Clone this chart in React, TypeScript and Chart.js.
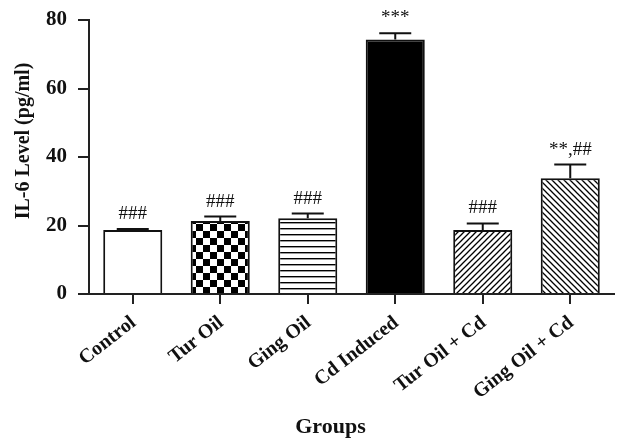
import React, { useEffect, useRef } from "react";
import { Chart, registerables } from "chart.js";

Chart.register(...registerables);

const categories = ["Control", "Tur Oil", "Ging Oil", "Cd Induced", "Tur Oil + Cd", "Ging Oil + Cd"];
const means = [18.7, 21.3, 22.1, 74.3, 18.7, 33.8];
const sems = [0.3, 1.3, 1.4, 1.8, 1.9, 4.0];
const significance = ["###", "###", "###", "***", "###", "**,##"];
const yTicks = [0, 20, 40, 60, 80];
const yTitle = "IL-6 Level (pg/ml)";
const xTitle = "Groups";

const SERIF = "'Liberation Serif', 'Times New Roman', serif";

function makeTile(size: number, draw: (c: CanvasRenderingContext2D, s: number) => void) {
  const cv = document.createElement("canvas");
  cv.width = size;
  cv.height = size;
  const c = cv.getContext("2d")!;
  c.fillStyle = "#ffffff";
  c.fillRect(0, 0, size, size);
  draw(c, size);
  return cv;
}

function buildPatterns(ctx: CanvasRenderingContext2D) {
  const checker = makeTile(14, (c) => {
    c.fillStyle = "#000";
    c.fillRect(0, 0, 7, 7);
    c.fillRect(7, 7, 7, 7);
  });
  const horiz = makeTile(6, (c, s) => {
    c.fillStyle = "#000";
    c.fillRect(0, 0, s, 1.4);
  });
  const diagUp = makeTile(6, (c, s) => {
    c.strokeStyle = "#000";
    c.lineWidth = 1.3;
    c.beginPath();
    c.moveTo(0, s); c.lineTo(s, 0);
    c.moveTo(-1, 1); c.lineTo(1, -1);
    c.moveTo(s - 1, s + 1); c.lineTo(s + 1, s - 1);
    c.stroke();
  });
  const diagDown = makeTile(6, (c, s) => {
    c.strokeStyle = "#000";
    c.lineWidth = 1.3;
    c.beginPath();
    c.moveTo(0, 0); c.lineTo(s, s);
    c.moveTo(-1, s - 1); c.lineTo(1, s + 1);
    c.moveTo(s - 1, -1); c.lineTo(s + 1, 1);
    c.stroke();
  });
  return [
    "#ffffff",
    ctx.createPattern(checker, "repeat")!,
    ctx.createPattern(horiz, "repeat")!,
    "#000000",
    ctx.createPattern(diagUp, "repeat")!,
    ctx.createPattern(diagDown, "repeat")!,
  ];
}

const errorBarPlugin = {
  id: "errorBars",
  afterDatasetsDraw(chart: any) {
    const { ctx, scales } = chart;
    const y = scales.y;
    const meta = chart.getDatasetMeta(0);
    ctx.save();
    ctx.strokeStyle = "#111";
    ctx.lineWidth = 2;
    meta.data.forEach((bar: any, i: number) => {
      const x = bar.x;
      const yb = y.getPixelForValue(means[i]);
      const yt = y.getPixelForValue(means[i] + sems[i]);
      ctx.beginPath();
      ctx.moveTo(x, yb);
      ctx.lineTo(x, yt);
      ctx.moveTo(x - 16, yt);
      ctx.lineTo(x + 16, yt);
      ctx.stroke();
      ctx.fillStyle = "#111";
      ctx.font = `19px ${SERIF}`;
      ctx.textAlign = "center";
      ctx.textBaseline = "alphabetic";
      ctx.fillText(significance[i], x, yt - 10);
    });
    ctx.restore();
  },
};

const axisTitlePlugin = {
  id: "axisTitles",
  afterDraw(chart: any) {
    const { ctx, chartArea } = chart;
    ctx.save();
    ctx.fillStyle = "#111";
    ctx.font = `bold 20px ${SERIF}`;
    ctx.textAlign = "center";
    ctx.textBaseline = "middle";
    ctx.translate(24, 141);
    ctx.rotate(-Math.PI / 2);
    ctx.fillText(yTitle, 0, 0);
    ctx.restore();
    ctx.save();
    ctx.fillStyle = "#111";
    ctx.font = `bold 22px ${SERIF}`;
    ctx.textAlign = "center";
    ctx.textBaseline = "middle";
    ctx.fillText(xTitle, chartArea.left + (chartArea.right - chartArea.left) * 0.46, 427);
    ctx.restore();
  },
};

export default function App() {
  const ref = useRef<HTMLCanvasElement | null>(null);
  useEffect(() => {
    const canvas = ref.current!;
    const ctx = canvas.getContext("2d")!;
    const fills = buildPatterns(ctx);
    const chart = new Chart(canvas, {
      type: "bar",
      data: {
        labels: categories,
        datasets: [
          {
            data: means,
            backgroundColor: fills as any,
            borderColor: "#111",
            borderWidth: 2,
            barPercentage: 0.675,
            categoryPercentage: 1,
          },
        ],
      },
      options: {
        responsive: false,
        animation: false,
        devicePixelRatio: 1,
        layout: { padding: { top: 20, right: 11, left: 0, bottom: 0 } },
        plugins: { legend: { display: false }, tooltip: { enabled: false } },
        scales: {
          x: {
            afterFit: (s: any) => { s.height = 153; },
            grid: { offset: false, drawOnChartArea: false, drawTicks: true, tickLength: 10, color: "#222", lineWidth: 2 },
            border: { display: true, color: "#222", width: 2 },
            ticks: {
              color: "#111",
              font: { family: SERIF, size: 20, weight: "bold" },
              maxRotation: 38,
              minRotation: 38,
              padding: 7,
              labelOffset: 1,
            },
          },
          y: {
            min: 0,
            max: 80,
            afterFit: (s: any) => { s.width = 89; },
            afterBuildTicks: (s: any) => { s.ticks = yTicks.map((v) => ({ value: v })); },
            grid: { drawOnChartArea: false, drawTicks: true, tickLength: 11, color: "#222", lineWidth: 2 },
            border: { display: true, color: "#222", width: 2 },
            ticks: {
              color: "#111",
              font: { family: SERIF, size: 21, weight: "bold", lineHeight: 0.5 },
              padding: 11,
            },
          },
        },
      },
      plugins: [errorBarPlugin, axisTitlePlugin],
    });
    return () => chart.destroy();
  }, []);
  return (
    <div style={{ position: "fixed", left: 0, top: 0, width: 625, height: 447, background: "#fff" }}>
      <canvas ref={ref} width={625} height={447} style={{ width: 625, height: 447, display: "block" }} />
    </div>
  );
}
